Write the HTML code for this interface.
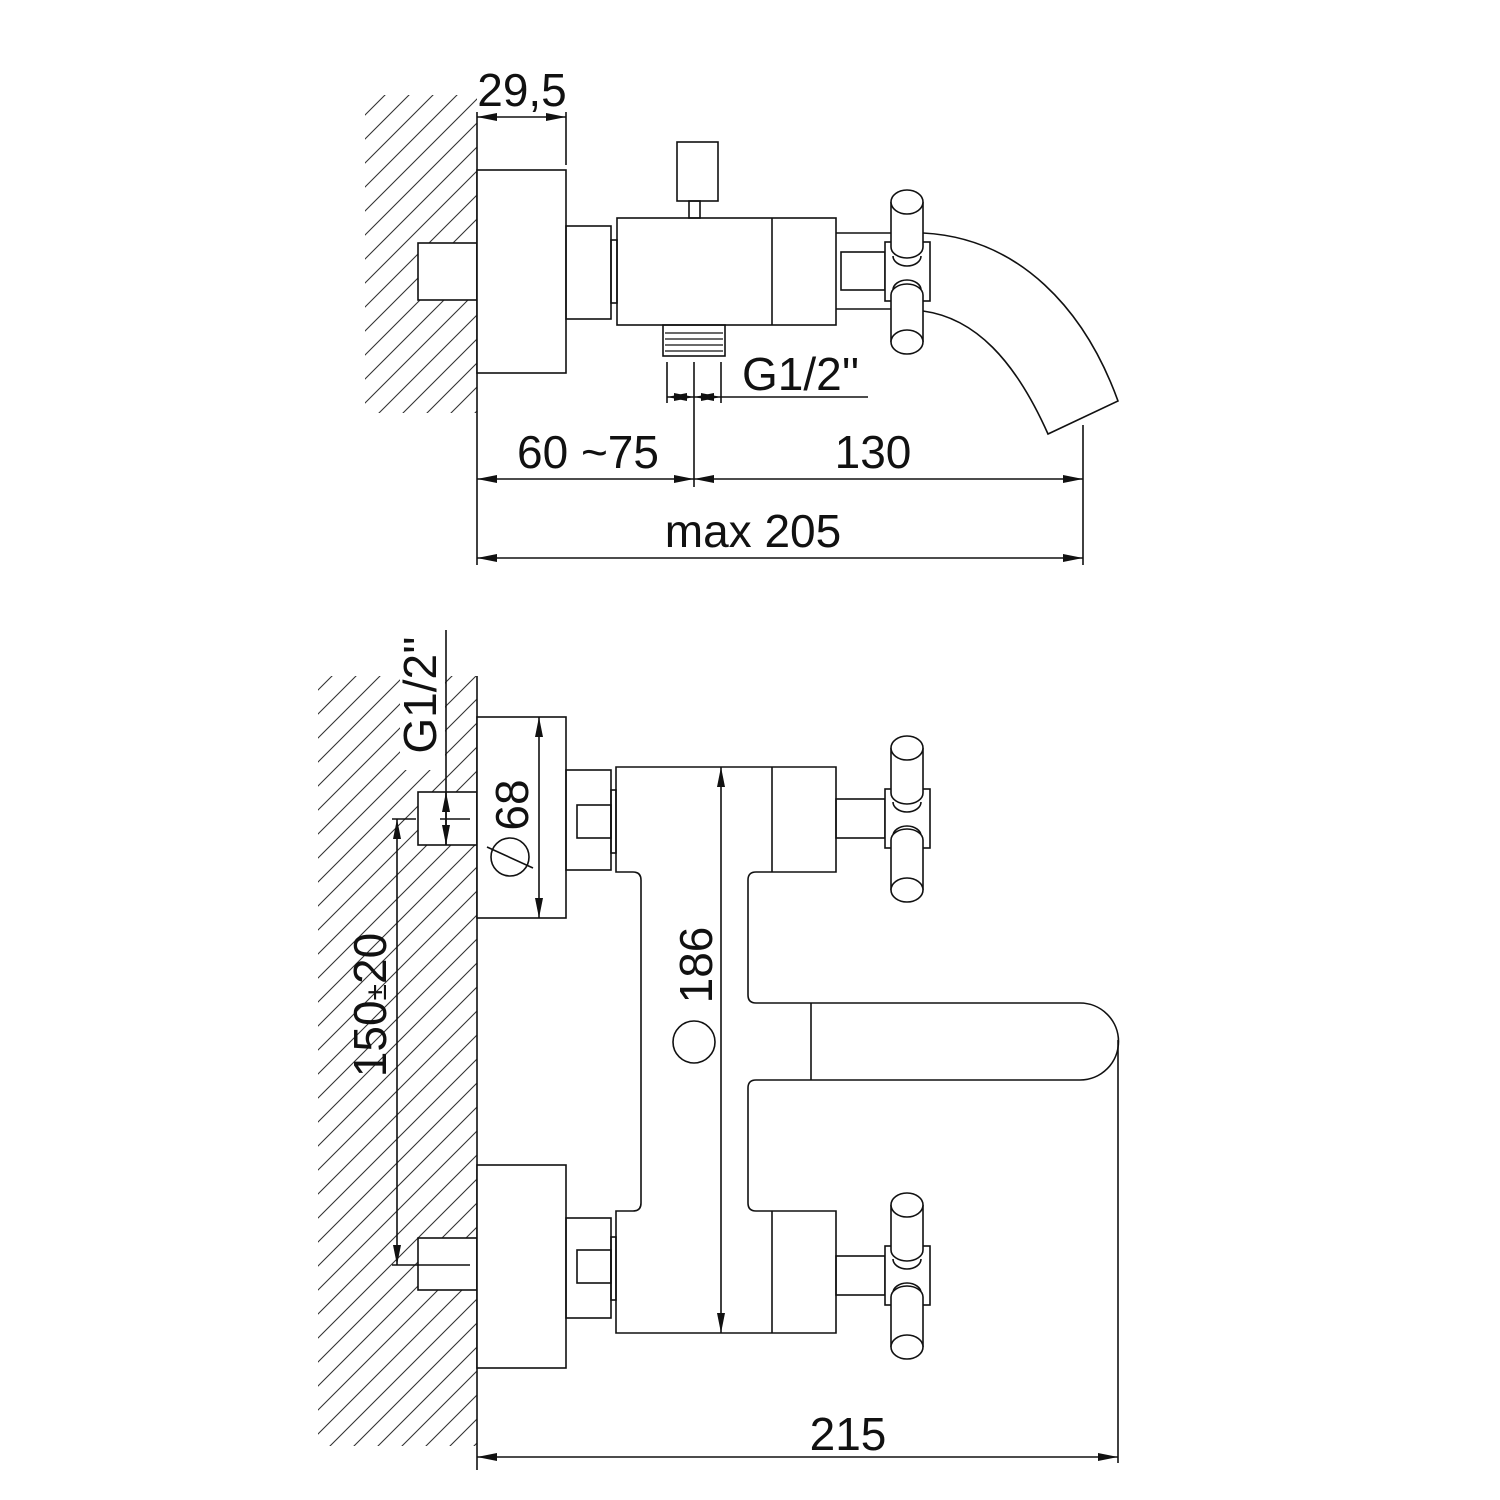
<!DOCTYPE html>
<html><head><meta charset="utf-8"><style>html,body{margin:0;padding:0;background:#fff}svg{display:block}text{font-family:"Liberation Sans",sans-serif;fill:#111}</style></head>
<body>
<svg width="1500" height="1500" viewBox="0 0 1500 1500" xmlns="http://www.w3.org/2000/svg">
<defs>
<pattern id="h" width="24" height="24" patternUnits="userSpaceOnUse">
<path d="M-6,30 L30,-6 M-6,6 L6,-6 M18,30 L30,18" stroke="#333" stroke-width="1.1"/>
</pattern>
<marker id="a" viewBox="0 0 20 8" refX="20" refY="4" markerWidth="20" markerHeight="8" markerUnits="userSpaceOnUse" orient="auto-start-reverse"><path d="M0,0 L20,4 L0,8 z" fill="#111"/></marker>
<clipPath id="c1"><rect x="365" y="95" width="112" height="318"/></clipPath>
<clipPath id="c2"><rect x="318" y="676" width="159" height="770"/></clipPath>
</defs>
<g fill="none" stroke="#111" stroke-width="1.6">
<!-- TOP VIEW -->
<rect x="365" y="95" width="112" height="318" fill="url(#h)" stroke="none" clip-path="url(#c1)"/>
<rect x="418" y="243" width="59" height="57" fill="#fff"/>
<line x1="477" y1="112" x2="477" y2="565"/>
<line x1="566" y1="112" x2="566" y2="165"/>
<line x1="477" y1="117" x2="566" y2="117" marker-start="url(#a)" marker-end="url(#a)"/>
<rect x="477" y="170" width="89" height="203" fill="#fff"/>
<rect x="566" y="226" width="45" height="93"/>
<rect x="611" y="240" width="6" height="63"/>
<rect x="617" y="218" width="219" height="107"/>
<line x1="772" y1="218" x2="772" y2="325"/>
<rect x="677" y="142" width="41" height="59"/>
<rect x="689" y="201" width="11" height="17"/>
<rect x="663" y="325" width="62" height="31"/>
<path d="M665,333h58M665,339h58M665,345h58M665,351h58" stroke-width="1.2"/>
<line x1="667" y1="362" x2="667" y2="403"/>
<line x1="721" y1="362" x2="721" y2="403"/>
<line x1="694" y1="362" x2="694" y2="487"/>
<line x1="667" y1="397" x2="694" y2="397" marker-start="url(#a)" marker-end="url(#a)"/>
<line x1="721" y1="397" x2="868" y2="397"/>
<line x1="694" y1="397" x2="721" y2="397" marker-end="url(#a)" marker-start="url(#a)"/>
<!-- right side top -->
<line x1="836" y1="233" x2="891" y2="233"/>
<line x1="836" y1="309" x2="891" y2="309"/>
<rect x="841" y="252" width="44" height="38"/>
<rect x="885" y="242" width="45" height="59" fill="#fff"/>
<path d="M923,233 C1020,238 1085,310 1118,401 L1048,434 C1015,360 975,318 923,311"/>
<path d="M891,202 V247 A16,11 0 0 0 923,247 V202" fill="#fff"/>
<ellipse cx="907" cy="202" rx="16" ry="12" fill="#fff"/>
<path d="M893,256 A14,10 0 0 0 921,256"/>
<path d="M893,290 A14,10 0 0 1 921,290"/>
<path d="M891,342 V295 A16,11 0 0 1 923,295 V342" fill="#fff"/>
<ellipse cx="907" cy="342" rx="16" ry="12" fill="#fff"/>
<line x1="1083" y1="425" x2="1083" y2="565"/>
<line x1="477" y1="479" x2="694" y2="479" marker-start="url(#a)" marker-end="url(#a)"/>
<line x1="694" y1="479" x2="1083" y2="479" marker-start="url(#a)" marker-end="url(#a)"/>
<line x1="477" y1="558" x2="1083" y2="558" marker-start="url(#a)" marker-end="url(#a)"/>

<!-- BOTTOM VIEW -->
<rect x="318" y="676" width="159" height="770" fill="url(#h)" stroke="none" clip-path="url(#c2)"/>
<rect x="418" y="792" width="59" height="53" fill="#fff"/>
<rect x="418" y="1238" width="59" height="52" fill="#fff"/>
<rect x="400" y="630" width="45" height="140" fill="#fff" stroke="none"/>
<line x1="477" y1="676" x2="477" y2="1470"/>
<line x1="446" y1="630" x2="446" y2="845"/>
<line x1="446" y1="792" x2="446" y2="845" marker-start="url(#a)" marker-end="url(#a)"/>
<line x1="440" y1="819" x2="470" y2="819"/>
<line x1="392" y1="819" x2="416" y2="819"/>
<line x1="392" y1="1265" x2="470" y2="1265"/>
<line x1="397" y1="819" x2="397" y2="1265" marker-start="url(#a)" marker-end="url(#a)"/>
<rect x="477" y="717" width="89" height="201" fill="#fff"/>
<line x1="539" y1="717" x2="539" y2="918" marker-start="url(#a)" marker-end="url(#a)"/>
<rect x="477" y="1165" width="89" height="203" fill="#fff"/>
<rect x="566" y="770" width="45" height="100"/>
<rect x="577" y="805" width="34" height="33"/>
<rect x="611" y="790" width="5" height="63"/>
<rect x="566" y="1218" width="45" height="100"/>
<rect x="577" y="1250" width="34" height="33"/>
<rect x="611" y="1237" width="5" height="63"/>
<!-- body -->
<path d="M616,767 H836 V872 H756 Q748,872 748,880 V995 Q748,1003 756,1003 H1080 A38,38 0 0 1 1080,1080 H756 Q748,1080 748,1088 V1203 Q748,1211 756,1211 H836 V1333 H616 V1211 H633 Q641,1211 641,1203 V880 Q641,872 633,872 H616 Z"/>
<line x1="772" y1="767" x2="772" y2="872"/>
<line x1="772" y1="1211" x2="772" y2="1333"/>
<line x1="811" y1="1003" x2="811" y2="1080"/>
<line x1="721" y1="767" x2="721" y2="1333" marker-start="url(#a)" marker-end="url(#a)"/>
<circle cx="694" cy="1042" r="21"/>
<line x1="1118" y1="1040" x2="1118" y2="1463"/>
<line x1="477" y1="1457" x2="1118" y2="1457" marker-start="url(#a)" marker-end="url(#a)"/>
<!-- knobs bottom view -->
<g id="k1">
<rect x="836" y="799" width="49" height="39"/>
<rect x="885" y="789" width="45" height="59" fill="#fff"/>
<path d="M891,748 V793 A16,11 0 0 0 923,793 V748" fill="#fff"/>
<ellipse cx="907" cy="748" rx="16" ry="12" fill="#fff"/>
<path d="M893,802 A14,10 0 0 0 921,802"/>
<path d="M893,836 A14,10 0 0 1 921,836"/>
<path d="M891,890 V840 A16,11 0 0 1 923,840 V890" fill="#fff"/>
<ellipse cx="907" cy="890" rx="16" ry="12" fill="#fff"/>
</g>
<use href="#k1" transform="translate(0,457)"/>
</g>
<g font-size="46">
<text x="522" y="106" text-anchor="middle">29,5</text>
<text x="742" y="390">G1/2''</text>
<text x="588" y="468" text-anchor="middle">60 ~75</text>
<text x="873" y="468" text-anchor="middle">130</text>
<text x="753" y="547" text-anchor="middle">max 205</text>
<text x="848" y="1450" text-anchor="middle">215</text>
<text transform="translate(436,695) rotate(-90)" text-anchor="middle">G1/2''</text>
<text transform="translate(528,805) rotate(-90)" text-anchor="middle">68</text>
<text transform="translate(712,965) rotate(-90)" text-anchor="middle">186</text>
<text transform="translate(386,1005) rotate(-90)" text-anchor="middle">150<tspan font-size="30">±</tspan>20</text>
</g>
<g fill="none" stroke="#111" stroke-width="1.6">
<circle cx="510" cy="857" r="19"/>
<line x1="487" y1="847" x2="533" y2="868"/>
</g>
</svg>
</body></html>
